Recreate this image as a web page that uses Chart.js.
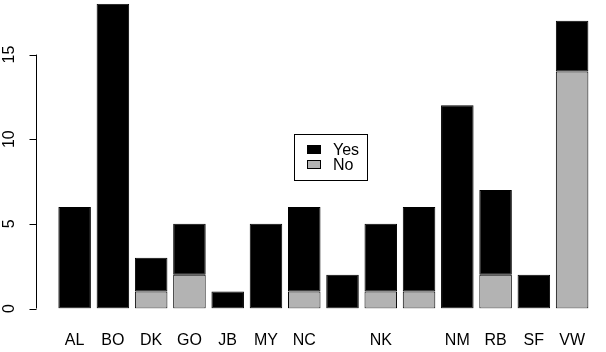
<!DOCTYPE html>
<html>
<head>
<meta charset="utf-8">
<script src="https://cdn.jsdelivr.net/npm/chart.js@4/dist/chart.umd.min.js"></script>
<style>
  html, body { margin: 0; padding: 0; background: #fff; overflow: hidden; }
  #wrap { position: absolute; left: 0; top: 0; width: 607px; height: 352px; }
</style>
</head>
<body>
<div id="wrap"><canvas id="chart"></canvas></div>
<script>
// ─── Data ──────────────────────────────────────────────────────────────────
const CATEGORIES = ['AL', 'BO', 'DK', 'GO', 'JB', 'MY', 'NC', '', 'NK', '', 'NM', 'RB', 'SF', 'VW'];
const NO_VALUES  = [0, 0, 1, 2, 0, 0, 1, 0, 1, 1, 0, 2, 0, 14];
const YES_VALUES = [6, 18, 2, 3, 1, 5, 5, 2, 4, 5, 12, 5, 2, 3];
const Y_TICKS = [0, 5, 10, 15];
const LEGEND_ITEMS = [
  { label: 'Yes', color: '#000000' },
  { label: 'No', color: '#b3b3b3' },
];

const FONT = '"Liberation Sans", Arial, Helvetica, sans-serif';

// ─── R-style detached y axis ───────────────────────────────────────────────
const rAxisPlugin = {
  id: 'rAxis',
  afterDraw(chart) {
    const { ctx, scales: { y } } = chart;
    const axisX = 36.5;
    ctx.save();
    ctx.strokeStyle = '#000';
    ctx.lineWidth = 1;
    ctx.beginPath();
    ctx.moveTo(axisX, y.getPixelForValue(Y_TICKS[0]));
    ctx.lineTo(axisX, y.getPixelForValue(Y_TICKS[Y_TICKS.length - 1]));
    Y_TICKS.forEach(v => {
      const py = Math.round(y.getPixelForValue(v)) + 0.5;
      ctx.moveTo(axisX, py);
      ctx.lineTo(axisX - 7, py);
    });
    ctx.stroke();
    ctx.fillStyle = '#000';
    ctx.font = `16px ${FONT}`;
    ctx.textAlign = 'center';
    ctx.textBaseline = 'middle';
    Y_TICKS.forEach(v => {
      ctx.save();
      ctx.translate(10, y.getPixelForValue(v));
      ctx.rotate(-Math.PI / 2);
      ctx.fillText(String(v), 0, 0);
      ctx.restore();
    });
    ctx.restore();
  }
};

// ─── Boxed legend in the middle ────────────────────────────────────────────
const boxLegendPlugin = {
  id: 'boxLegend',
  afterDraw(chart) {
    const { ctx } = chart;
    const bx = 294.5, by = 134.5, bw = 73, bh = 46;
    ctx.save();
    ctx.fillStyle = '#fff';
    ctx.fillRect(bx, by, bw, bh);
    ctx.strokeStyle = '#000';
    ctx.lineWidth = 1;
    ctx.strokeRect(bx, by, bw, bh);
    ctx.font = `16px ${FONT}`;
    ctx.textAlign = 'left';
    ctx.textBaseline = 'middle';
    LEGEND_ITEMS.forEach((item, i) => {
      const cy = 149.5 + i * 15;
      ctx.fillStyle = item.color;
      ctx.fillRect(307.5, cy - 4, 13, 8);
      ctx.strokeRect(307.5, cy - 4, 13, 8);
      ctx.fillStyle = '#000';
      ctx.fillText(item.label, 333, cy + 1);
    });
    ctx.restore();
  }
};

// ─── Chart ─────────────────────────────────────────────────────────────────
const ctx = document.getElementById('chart').getContext('2d');
new Chart(ctx, {
  type: 'bar',
  data: {
    labels: CATEGORIES,
    datasets: [
      { label: 'No', data: NO_VALUES, backgroundColor: '#b3b3b3', borderColor: '#000', borderWidth: 1, borderSkipped: false },
      { label: 'Yes', data: YES_VALUES, backgroundColor: '#000000', borderColor: '#000', borderWidth: 1, borderSkipped: false },
    ]
  },
  options: {
    responsive: true, maintainAspectRatio: false, animation: false,
    layout: { padding: { left: 55.5, right: 0, top: 3.8, bottom: 0 } },
    datasets: { bar: { categoryPercentage: 1, barPercentage: 0.85 } },
    plugins: { legend: { display: false }, tooltip: { enabled: false } },
    scales: {
      x: {
        stacked: true,
        grid: { display: false, drawTicks: false },
        border: { display: false },
        ticks: { color: '#000', font: { family: FONT, size: 16 }, padding: 22, autoSkip: false, maxRotation: 0 },
        afterFit(scale) { scale.height = 43.5; }
      },
      y: { stacked: true, display: false, min: 0, max: 18 }
    }
  },
  plugins: [rAxisPlugin, boxLegendPlugin]
});
</script>
</body>
</html>
